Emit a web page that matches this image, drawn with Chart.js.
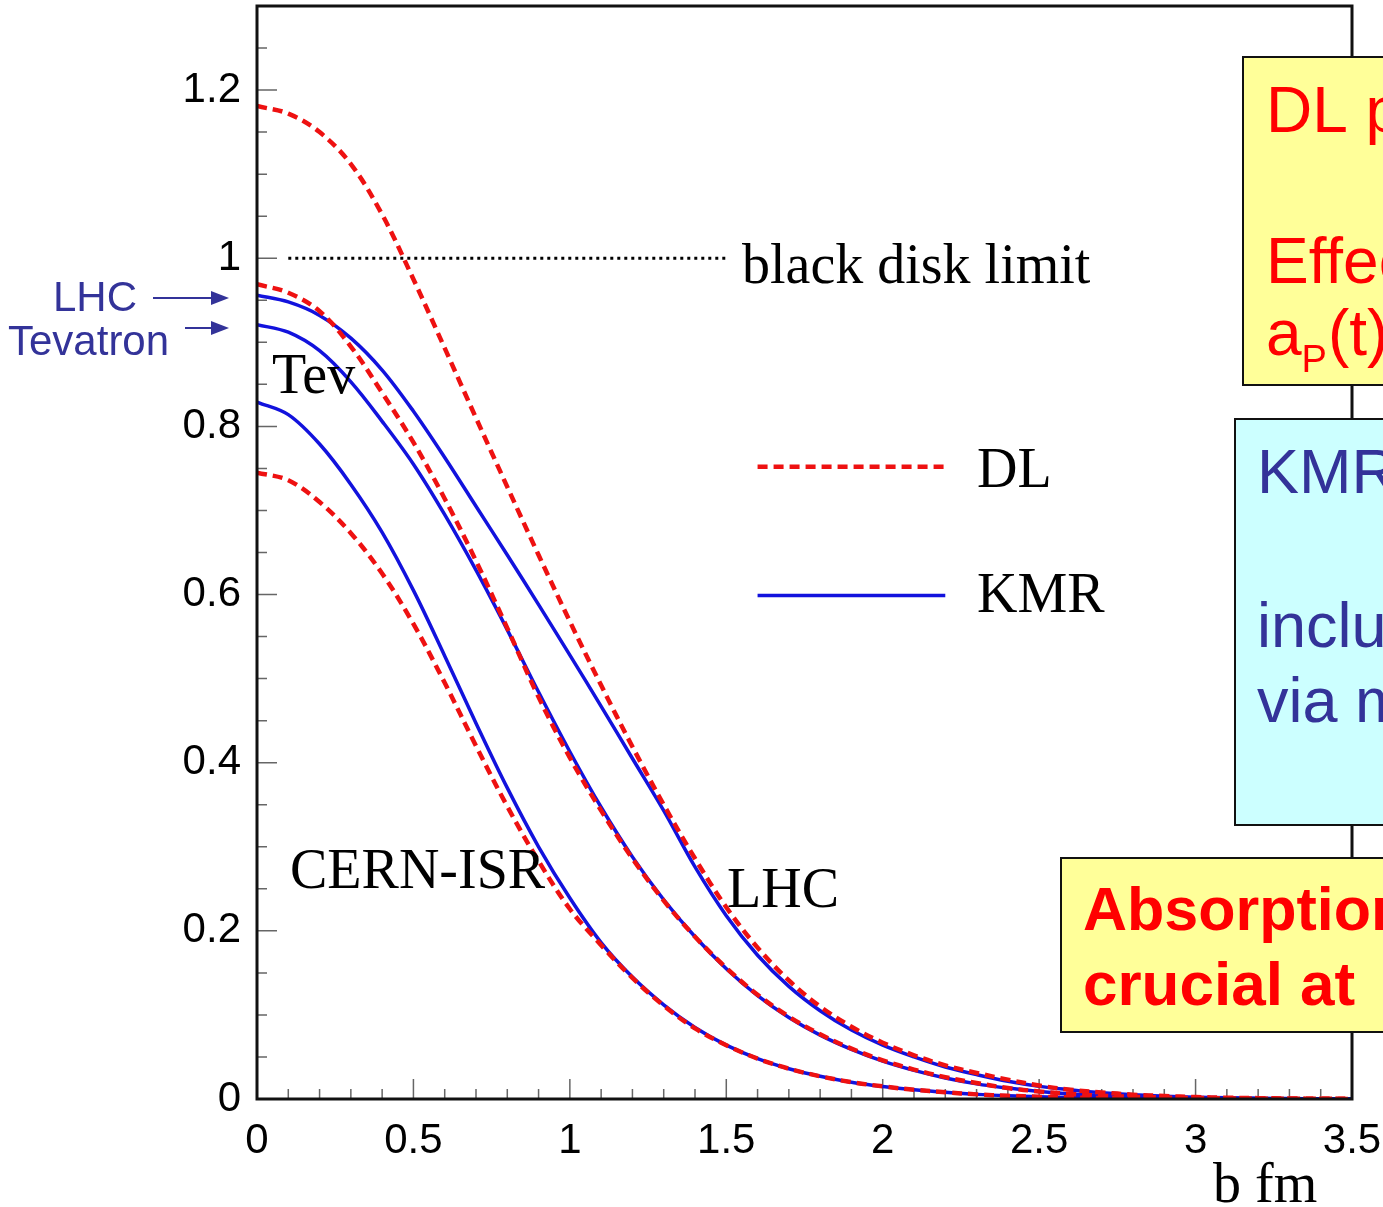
<!DOCTYPE html>
<html lang="en">
<head>
<meta charset="UTF-8">
<title>Profile functions DL vs KMR</title>
<script src="https://cdn.jsdelivr.net/npm/chart.js@4.4.1/dist/chart.umd.min.js"></script>
<style>
  html, body { margin: 0; padding: 0; background: #fff; }
  #wrap { width: 1383px; height: 1207px; }
</style>
</head>
<body>
<div id="wrap"><canvas id="chart" width="1383" height="1207"></canvas></div>
<script>
// impact parameter b in fm
const bValues = [0, 0.1, 0.2, 0.3, 0.4, 0.5, 0.6, 0.7, 0.8, 0.9, 1.0, 1.1, 1.2, 1.3, 1.4, 1.5, 1.6, 1.7,
  1.8, 1.9, 2.0, 2.1, 2.2, 2.3, 2.4, 2.5, 2.6, 2.7, 2.8, 2.9, 3.0, 3.1, 3.2, 3.3, 3.4, 3.5];

// DL (dashed red) - LHC, Tevatron, CERN-ISR
const dlLHC = [1.181, 1.172, 1.15, 1.112, 1.052, 0.975, 0.893, 0.81, 0.728, 0.647, 0.568, 0.492, 0.419,
  0.35, 0.286, 0.228, 0.18, 0.141, 0.11, 0.086, 0.067, 0.052, 0.04, 0.031, 0.023, 0.016, 0.011,
  0.0078, 0.0052, 0.0035, 0.0023, 0.0015, 0.001, 0.0006, 0.0003, 0.0002];
const dlTev = [0.969, 0.959, 0.937, 0.895, 0.84, 0.781, 0.714, 0.64, 0.56, 0.478, 0.406, 0.343, 0.286,
  0.236, 0.193, 0.156, 0.124, 0.098, 0.077, 0.06, 0.046, 0.035, 0.026, 0.019, 0.013, 0.009, 0.006,
  0.004, 0.0027, 0.0018, 0.0012, 0.0008, 0.0005, 0.0003, 0.0002, 0.0001];
const dlISR = [0.745, 0.736, 0.71, 0.673, 0.625, 0.565, 0.495, 0.42, 0.348, 0.283, 0.226, 0.183, 0.144,
  0.111, 0.084, 0.064, 0.048, 0.036, 0.027, 0.02, 0.015, 0.011, 0.008, 0.0055, 0.0038, 0.0026, 0.0018,
  0.0012, 0.0008, 0.0005, 0.0003, 0.0002, 0.0001, 0.0001, 0, 0];

// KMR (solid blue)
const kmrLHC = [0.956, 0.948, 0.932, 0.905, 0.867, 0.818, 0.763, 0.705, 0.647, 0.588, 0.528, 0.467, 0.405,
  0.343, 0.276, 0.218, 0.171, 0.134, 0.105, 0.082, 0.064, 0.05, 0.038, 0.029, 0.021, 0.015, 0.011,
  0.0075, 0.005, 0.0034, 0.0022, 0.0014, 0.0009, 0.0005, 0.0003, 0.0002];
const kmrTev = [0.921, 0.912, 0.89, 0.853, 0.806, 0.755, 0.695, 0.629, 0.558, 0.484, 0.413, 0.347, 0.288,
  0.237, 0.193, 0.155, 0.123, 0.097, 0.076, 0.059, 0.045, 0.034, 0.025, 0.018, 0.013, 0.009, 0.006,
  0.004, 0.0027, 0.0018, 0.0012, 0.0008, 0.0005, 0.0003, 0.0002, 0.0001];
const kmrISR = [0.829, 0.814, 0.779, 0.731, 0.674, 0.605, 0.527, 0.447, 0.37, 0.3, 0.239, 0.186, 0.145,
  0.112, 0.085, 0.064, 0.048, 0.036, 0.027, 0.02, 0.015, 0.011, 0.008, 0.0055, 0.0038, 0.0026, 0.0018,
  0.0012, 0.0008, 0.0005, 0.0003, 0.0002, 0.0001, 0.0001, 0, 0];

// black disk limit
const blackDiskB = [0.1, 1.5];
const blackDiskY = [1, 1];

// axis labels
const xMajorTicks = [0, 0.5, 1, 1.5, 2, 2.5, 3, 3.5];
const yMajorTicks = [0, 0.2, 0.4, 0.6, 0.8, 1, 1.2];

const RED = '#ee1111';
const BLUE = '#1212dd';
const NAVY = '#333399';
const SERIF = "'Liberation Serif', 'Times New Roman', serif";
const SANS = "'Liberation Sans', Arial, sans-serif";

const pts = (xs, ys) => xs.map((x, i) => ({ x: x, y: ys[i] }));

function dlSet(label, ys) {
  return { label: label, data: pts(bValues, ys), borderColor: RED, borderWidth: 4.5,
    borderDash: [10, 6], pointRadius: 0, tension: 0.35, order: 0 };
}
function kmrSet(label, ys) {
  return { label: label, data: pts(bValues, ys), borderColor: BLUE, borderWidth: 3.5,
    pointRadius: 0, tension: 0.35, order: 1 };
}

function txt(ctx, s, x, y, font, color) {
  ctx.font = font;
  ctx.fillStyle = color;
  ctx.textAlign = 'left';
  ctx.textBaseline = 'alphabetic';
  ctx.fillText(s, x, y);
}

function arrow(ctx, x1, x2, y) {
  ctx.strokeStyle = NAVY;
  ctx.fillStyle = NAVY;
  ctx.lineWidth = 2;
  ctx.beginPath();
  ctx.moveTo(x1, y);
  ctx.lineTo(x2 - 14, y);
  ctx.stroke();
  ctx.beginPath();
  ctx.moveTo(x2, y);
  ctx.lineTo(x2 - 18, y - 7);
  ctx.lineTo(x2 - 18, y + 7);
  ctx.closePath();
  ctx.fill();
}

function box(ctx, x, y, w, h, fill) {
  ctx.fillStyle = fill;
  ctx.fillRect(x, y, w, h);
  ctx.strokeStyle = '#111';
  ctx.lineWidth = 2;
  ctx.strokeRect(x, y, w, h);
}

const decor = {
  id: 'decor',
  beforeDatasetsDraw(chart) {
    const { ctx, chartArea: a, scales: { x, y } } = chart;
    ctx.save();
    // inward ticks
    ctx.strokeStyle = '#666';
    ctx.lineWidth = 1.5;
    ctx.beginPath();
    for (let i = 0; i <= 26; i++) {
      const py = y.getPixelForValue(i * 0.05);
      const len = i % 4 === 0 ? 20 : 10;
      ctx.moveTo(a.left, py);
      ctx.lineTo(a.left + len, py);
    }
    for (let i = 0; i <= 35; i++) {
      const px = x.getPixelForValue(i * 0.1);
      const len = i % 5 === 0 ? 20 : 10;
      ctx.moveTo(px, a.bottom);
      ctx.lineTo(px, a.bottom - len);
    }
    ctx.stroke();
    ctx.restore();
  },
  afterDatasetsDraw(chart) {
    const { ctx, chartArea: a, scales: { x, y } } = chart;
    ctx.save();
    // frame
    ctx.strokeStyle = '#111';
    ctx.lineWidth = 3;
    ctx.strokeRect(a.left, a.top, a.right - a.left, a.bottom - a.top);

    // legend
    const lx1 = x.getPixelForValue(1.6), lx2 = x.getPixelForValue(2.2);
    ctx.lineWidth = 4.5;
    ctx.strokeStyle = RED;
    ctx.setLineDash([10, 6]);
    ctx.beginPath();
    ctx.moveTo(lx1, y.getPixelForValue(0.752));
    ctx.lineTo(lx2, y.getPixelForValue(0.752));
    ctx.stroke();
    ctx.setLineDash([]);
    ctx.lineWidth = 3.5;
    ctx.strokeStyle = BLUE;
    ctx.beginPath();
    ctx.moveTo(lx1, y.getPixelForValue(0.599));
    ctx.lineTo(lx2, y.getPixelForValue(0.599));
    ctx.stroke();

    const f = '56px ' + SERIF;
    txt(ctx, 'DL', 977, 487, f, '#000');
    txt(ctx, 'KMR', 977, 612, f, '#000');
    txt(ctx, 'black disk limit', 742, 283, f, '#000');
    txt(ctx, 'Tev', 272, 393, f, '#000');
    txt(ctx, 'CERN-ISR', 290, 888, f, '#000');
    txt(ctx, 'LHC', 727, 907, f, '#000');
    txt(ctx, 'b fm', 1213, 1202, f, '#000');
    ctx.restore();
  },
  afterDraw(chart) {
    const { ctx } = chart;
    ctx.save();
    // labels on the left
    txt(ctx, 'LHC', 53, 311, '42px ' + SANS, NAVY);
    txt(ctx, 'Tevatron', 8, 355, '42px ' + SANS, NAVY);
    arrow(ctx, 153, 229, 298);
    arrow(ctx, 185, 229, 328);

    // DL box
    box(ctx, 1243, 57, 200, 328, '#ffff99');
    txt(ctx, 'DL pomeron', 1266, 132, '64px ' + SANS, '#ff0000');
    txt(ctx, 'Effective', 1266, 283, '64px ' + SANS, '#ff0000');
    txt(ctx, 'a', 1266, 355, '64px ' + SANS, '#ff0000');
    const aw = ctx.measureText('a').width;
    txt(ctx, 'P', 1266 + aw, 372, '38px ' + SANS, '#ff0000');
    const pw = ctx.measureText('P').width;
    txt(ctx, '(t)', 1266 + aw + pw + 1, 355, '64px ' + SANS, '#ff0000');

    // KMR box
    box(ctx, 1235, 419, 200, 406, '#ccffff');
    txt(ctx, 'KMR model', 1257, 493, '63px ' + SANS, NAVY);
    txt(ctx, 'includes', 1257, 647, '63px ' + SANS, NAVY);
    txt(ctx, 'via multi-Pomeron', 1257, 722, '63px ' + SANS, NAVY);

    // absorption box
    box(ctx, 1061, 858, 400, 174, '#ffff99');
    txt(ctx, 'Absorption', 1083, 930, 'bold 61px ' + SANS, '#ff0000');
    txt(ctx, 'crucial at', 1083, 1005, 'bold 62px ' + SANS, '#ff0000');
    ctx.restore();
  }
};

new Chart(document.getElementById('chart'), {
  type: 'line',
  data: {
    datasets: [
      dlSet('DL LHC', dlLHC),
      dlSet('DL Tevatron', dlTev),
      dlSet('DL CERN-ISR', dlISR),
      kmrSet('KMR LHC', kmrLHC),
      kmrSet('KMR Tevatron', kmrTev),
      kmrSet('KMR CERN-ISR', kmrISR),
      { label: 'black disk limit', data: pts(blackDiskB, blackDiskY), borderColor: '#000',
        borderWidth: 3, borderDash: [3, 4], pointRadius: 0, order: 2 }
    ]
  },
  options: {
    responsive: false,
    animation: false,
    layout: { padding: { top: 6, right: 31, left: 0, bottom: 0 } },
    plugins: { legend: { display: false }, tooltip: { enabled: false } },
    scales: {
      x: {
        type: 'linear', min: 0, max: 3.5,
        grid: { display: false }, border: { display: false },
        ticks: { font: { family: SANS, size: 42 }, color: '#000', padding: 9, maxRotation: 0,
          autoSkip: false, callback: v => String(v) },
        afterBuildTicks: s => { s.ticks = xMajorTicks.map(v => ({ value: v })); },
        afterFit: s => { s.height = 108; s.paddingLeft = 0; s.paddingRight = 0; }
      },
      y: {
        type: 'linear', min: 0, max: 1.3,
        grid: { display: false }, border: { display: false },
        ticks: { font: { family: SANS, size: 42 }, color: '#000', padding: 8,
          autoSkip: false, callback: v => String(v) },
        afterBuildTicks: s => { s.ticks = yMajorTicks.map(v => ({ value: v })); },
        afterFit: s => { s.width = 257; s.paddingTop = 0; s.paddingBottom = 0; }
      }
    }
  },
  plugins: [decor]
});
</script>
</body>
</html>
